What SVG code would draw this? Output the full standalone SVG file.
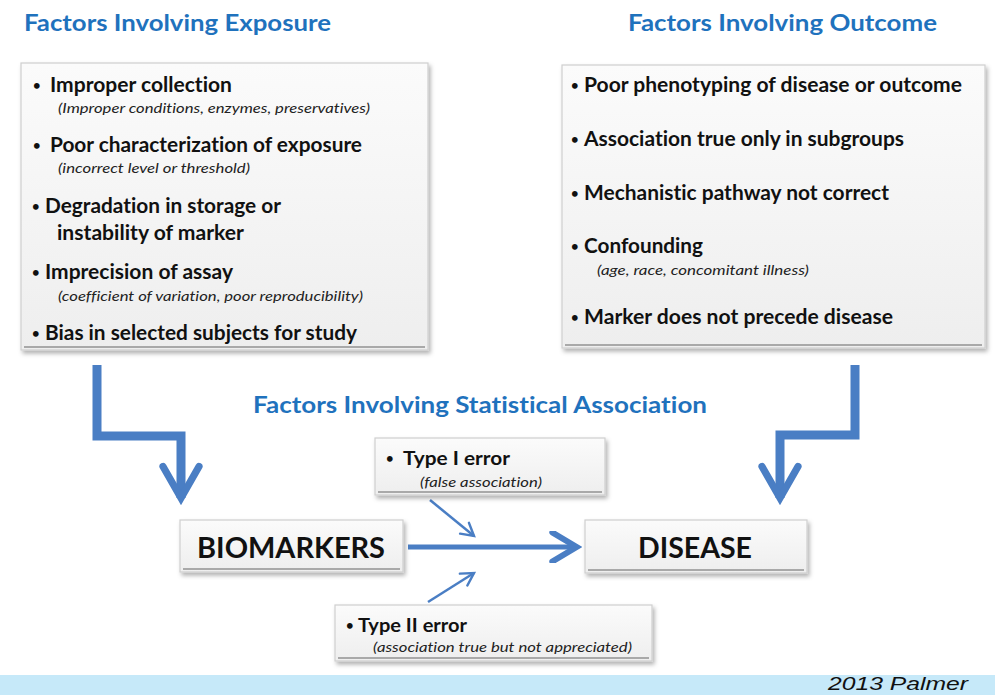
<svg xmlns="http://www.w3.org/2000/svg" width="995" height="695" viewBox="0 0 995 695">
  <defs>
    <linearGradient id="boxFill" x1="0" y1="0" x2="0" y2="1">
      <stop offset="0" stop-color="#fbfbfb"/>
      <stop offset="1" stop-color="#eeeeee"/>
    </linearGradient>
    <filter id="shadow" x="-5%" y="-5%" width="112%" height="120%">
      <feDropShadow dx="2" dy="3" stdDeviation="2" flood-color="#000" flood-opacity="0.3"/>
    </filter>
    <marker id="chevBig" viewBox="0 0 10 10" refX="8" refY="5" markerWidth="5" markerHeight="5" orient="auto" markerUnits="strokeWidth">
      <path d="M1,1 L8,5 L1,9" fill="none" stroke="#4a7ec4" stroke-width="1.6" stroke-linecap="round" stroke-linejoin="miter"/>
    </marker>
    <marker id="chevMain" viewBox="0 0 10 10" refX="8" refY="5" markerWidth="6.5" markerHeight="6.5" orient="auto" markerUnits="strokeWidth">
      <path d="M1,0.5 L8.5,5 L1,9.5" fill="none" stroke="#4a7ec4" stroke-width="1.8" stroke-linecap="round"/>
    </marker>
    <marker id="chevSmall" viewBox="0 0 10 10" refX="8" refY="5" markerWidth="7" markerHeight="7" orient="auto" markerUnits="strokeWidth">
      <path d="M1,1 L8,5 L1,9" fill="none" stroke="#4a7ec4" stroke-width="1.4" stroke-linecap="round"/>
    </marker>
  </defs>
  <style>
    text { font-variant-ligatures: none; }
    .title { font-family: Lato, "Open Sans", sans-serif; font-weight: bold; font-size: 23px; fill: #1f72bd; }
    .item { font-family: Lato, "Open Sans", sans-serif; font-weight: bold; font-size: 20px; fill: #111; }
    .dot { font-family: Lato, "Open Sans", sans-serif; font-weight: bold; font-size: 13px; fill: #111; }
    .note { font-family: Lato, "Open Sans", sans-serif; font-style: italic; font-size: 14px; fill: #222; }
    .big { font-family: Lato, "Open Sans", sans-serif; font-weight: bold; font-size: 29px; fill: #111; }
    .err { font-family: Lato, "Open Sans", sans-serif; font-weight: bold; font-size: 18px; fill: #111; }
    .box { fill: url(#boxFill); stroke: #cfcfcf; stroke-width: 1.2; filter: url(#shadow); }
    .bevel { stroke: #a9a9a9; stroke-width: 2; fill: none; }
    .flow { fill: none; stroke: #4a7ec4; }
    .credit { font-family: "Liberation Sans", Arial, sans-serif; font-style: italic; font-size: 19px; fill: #111; }
  </style>

  <rect width="995" height="695" fill="#ffffff"/>

  <!-- footer band -->
  <rect x="0" y="675" width="995" height="20" fill="#c6e9f9"/>
  <text class="credit" x="828" y="690" textLength="140" lengthAdjust="spacingAndGlyphs">2013 Palmer</text>

  <!-- section headings -->
  <text class="title" x="24" y="31" textLength="307" lengthAdjust="spacingAndGlyphs">Factors Involving Exposure</text>
  <text class="title" x="628" y="31" textLength="309" lengthAdjust="spacingAndGlyphs">Factors Involving Outcome</text>
  <text class="title" x="253" y="413" textLength="454" lengthAdjust="spacingAndGlyphs">Factors Involving Statistical Association</text>

  <!-- connectors -->
  <g id="connectors">
    <polyline class="flow" stroke-width="9" points="97,365 97,436 181,436 181,498" marker-end="url(#chevBig)"/>
    <polyline class="flow" stroke-width="9" points="855,365 855,435 780,435 780,498" marker-end="url(#chevBig)"/>
    <line class="flow" stroke-width="5" x1="408" y1="547" x2="575" y2="547" marker-end="url(#chevMain)"/>
    <line class="flow" stroke-width="2.5" x1="430" y1="500" x2="474" y2="536" marker-end="url(#chevSmall)"/>
    <line class="flow" stroke-width="2.5" x1="428" y1="602" x2="474" y2="573" marker-end="url(#chevSmall)"/>
  </g>

  <!-- exposure factors -->
  <g id="exposure">
    <rect class="box" x="21" y="63" width="407" height="287"/>
    <line class="bevel" x1="24" y1="347" x2="425" y2="347"/>
    <text class="dot" x="33" y="90">•</text>
    <text class="item" x="50" y="92" textLength="182" lengthAdjust="spacingAndGlyphs">Improper collection</text>
    <text class="note" x="58" y="113" textLength="312" lengthAdjust="spacingAndGlyphs">(Improper conditions, enzymes, preservatives)</text>
    <text class="dot" x="33" y="150">•</text>
    <text class="item" x="50" y="152" textLength="312" lengthAdjust="spacingAndGlyphs">Poor characterization of exposure</text>
    <text class="note" x="58" y="173" textLength="192" lengthAdjust="spacingAndGlyphs">(incorrect level or threshold)</text>
    <text class="dot" x="32" y="211">•</text>
    <text class="item" x="45" y="213" textLength="236" lengthAdjust="spacingAndGlyphs">Degradation in storage or</text>
    <text class="item" x="57" y="240" textLength="187" lengthAdjust="spacingAndGlyphs">instability of marker</text>
    <text class="dot" x="32" y="277">•</text>
    <text class="item" x="45" y="279" textLength="188" lengthAdjust="spacingAndGlyphs">Imprecision of assay</text>
    <text class="note" x="58" y="301" textLength="305" lengthAdjust="spacingAndGlyphs">(coefficient of variation, poor reproducibility)</text>
    <text class="dot" x="32" y="338">•</text>
    <text class="item" x="45" y="340" textLength="312" lengthAdjust="spacingAndGlyphs">Bias in selected subjects for study</text>
  </g>

  <!-- outcome factors -->
  <g id="outcome">
    <rect class="box" x="562" y="65" width="423" height="283"/>
    <line class="bevel" x1="565" y1="345" x2="982" y2="345"/>
    <text class="dot" x="571" y="90">•</text>
    <text class="item" x="584" y="92" textLength="378" lengthAdjust="spacingAndGlyphs">Poor phenotyping of disease or outcome</text>
    <text class="dot" x="571" y="144">•</text>
    <text class="item" x="584" y="146" textLength="320" lengthAdjust="spacingAndGlyphs">Association true only in subgroups</text>
    <text class="dot" x="571" y="198">•</text>
    <text class="item" x="584" y="200" textLength="305" lengthAdjust="spacingAndGlyphs">Mechanistic pathway not correct</text>
    <text class="dot" x="571" y="251">•</text>
    <text class="item" x="584" y="253" textLength="119" lengthAdjust="spacingAndGlyphs">Confounding</text>
    <text class="note" x="597" y="275" textLength="212" lengthAdjust="spacingAndGlyphs">(age, race, concomitant illness)</text>
    <text class="dot" x="571" y="322">•</text>
    <text class="item" x="584" y="324" textLength="309" lengthAdjust="spacingAndGlyphs">Marker does not precede disease</text>
  </g>

  <!-- biomarkers -->
  <g id="biomarkers">
    <rect class="box" x="180" y="520" width="223" height="52"/>
    <line class="bevel" x1="183" y1="569" x2="400" y2="569"/>
    <text class="big" x="197" y="558" textLength="188" lengthAdjust="spacingAndGlyphs">BIOMARKERS</text>
  </g>

  <!-- disease -->
  <g id="disease">
    <rect class="box" x="585" y="520" width="222" height="53"/>
    <line class="bevel" x1="588" y1="570" x2="804" y2="570"/>
    <text class="big" x="638" y="558" textLength="114" lengthAdjust="spacingAndGlyphs">DISEASE</text>
  </g>

  <!-- type I error -->
  <g id="type1">
    <rect class="box" x="375" y="438" width="230" height="57"/>
    <line class="bevel" x1="378" y1="492" x2="602" y2="492"/>
    <text class="dot" x="386" y="463">•</text>
    <text class="err" x="403" y="465" textLength="107" lengthAdjust="spacingAndGlyphs">Type I error</text>
    <text class="note" x="420" y="487" textLength="122" lengthAdjust="spacingAndGlyphs">(false association)</text>
  </g>

  <!-- type II error -->
  <g id="type2">
    <rect class="box" x="335" y="605" width="317" height="56"/>
    <line class="bevel" x1="338" y1="658" x2="649" y2="658"/>
    <text class="dot" x="346" y="630">•</text>
    <text class="err" x="358" y="632" textLength="109" lengthAdjust="spacingAndGlyphs">Type II error</text>
    <text class="note" x="373" y="652" textLength="259" lengthAdjust="spacingAndGlyphs">(association true but not appreciated)</text>
  </g>
</svg>
